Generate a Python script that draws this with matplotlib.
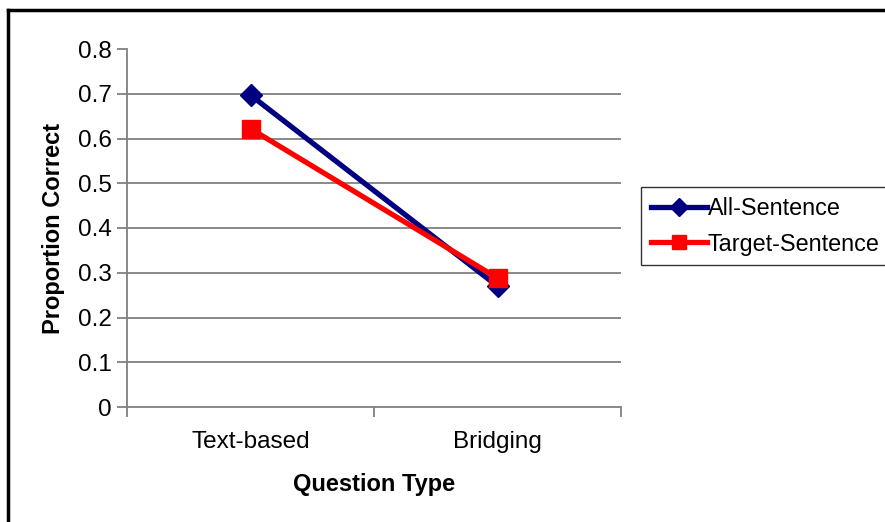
import matplotlib
matplotlib.use('Agg')
import matplotlib.pyplot as plt
from matplotlib.lines import Line2D

plt.rcParams['font.family'] = ['Liberation Sans', 'DejaVu Sans']

# chart data
question_types = ['Text-based', 'Bridging']
all_sentence = [0.697, 0.270]
target_sentence = [0.622, 0.288]
y_ticks = [0, 0.1, 0.2, 0.3, 0.4, 0.5, 0.6, 0.7, 0.8]

fig = plt.figure(figsize=(8.85, 5.22), dpi=100)
ax = fig.add_axes([127 / 885, 1 - 407 / 522, (621 - 127) / 885, (407 - 49) / 522])

x = list(range(len(question_types)))

# gridlines (none at the top value)
for yv in y_ticks[1:-1]:
    ax.axhline(yv, color='#808080', linewidth=1.3, zorder=1)

ax.plot(x, all_sentence, color='#000080', linewidth=3.8, marker='D',
        markersize=11, label='All-Sentence', zorder=3)
ax.plot(x, target_sentence, color='#ff0000', linewidth=3.8, marker='s',
        markersize=13, label='Target-Sentence', zorder=4)

ax.set_xlim(-0.5, 1.5)
ax.set_ylim(0, 0.8)
ax.set_yticks(y_ticks)
ax.set_yticklabels(['0' if v == 0 else f'{v:.1f}' for v in y_ticks])
ax.set_xticks(x)
ax.set_xticklabels(question_types)
ax.set_xticks([-0.5, 0.5, 1.5], minor=True)

ax.tick_params(axis='x', which='major', length=0, pad=17, labelsize=17.5)
ax.tick_params(axis='x', which='minor', length=7, width=1.3, color='#808080', direction='out')
ax.tick_params(axis='y', length=7, width=1.3, color='#808080', direction='out', pad=4, labelsize=17.5)

for side in ['top', 'right']:
    ax.spines[side].set_visible(False)
for side in ['left', 'bottom']:
    ax.spines[side].set_color('#808080')
    ax.spines[side].set_linewidth(1.3)

ax.set_xlabel('Question Type', fontsize=17, fontweight='bold', labelpad=15)
ax.set_ylabel('Proportion Correct', fontsize=17, fontweight='bold', labelpad=9)

leg = ax.legend(loc='upper left', bbox_to_anchor=(641 / 885, 1 - 187 / 522),
                bbox_transform=fig.transFigure, fontsize=16.8, frameon=True,
                fancybox=False, borderaxespad=0, handlelength=2.4,
                handletextpad=0.05, borderpad=0.42, labelspacing=0.55)
leg.get_frame().set_edgecolor('black')
leg.get_frame().set_linewidth(1.0)
for h, ms in zip(leg.legend_handles, [9, 10]):
    h.set_markersize(ms)

# outer chart border (left and top visible)
fig.add_artist(Line2D([8 / 885, 8 / 885], [0, 1 - 10 / 522], color='black',
                      linewidth=2.5, transform=fig.transFigure))
fig.add_artist(Line2D([8 / 885, 1], [1 - 10 / 522, 1 - 10 / 522], color='black',
                      linewidth=2.5, transform=fig.transFigure))

fig.savefig('out.png', dpi=100)
